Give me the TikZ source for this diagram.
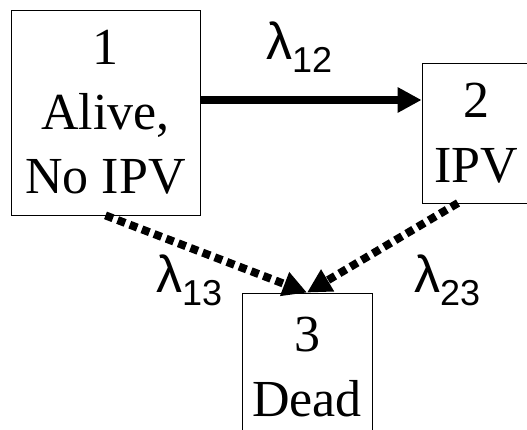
\documentclass[tikz,border=0pt]{standalone}
\usepackage{fontspec}
\setmainfont{Liberation Serif}
\newfontfamily\lamfont{Liberation Sans}
\usetikzlibrary{arrows.meta}
\begin{document}
\begin{tikzpicture}[x=1pt,y=-1pt,
  statebox/.style={draw, line width=0.8pt, inner sep=0pt, align=center,
    font=\fontsize{52}{64.5}\selectfont},
  lam/.style={font=\lamfont\fontsize{52}{52}\selectfont, inner sep=0pt, anchor=base west},
  bigtip/.style={-{Triangle[length=24pt,width=24pt]}},
  solidarrow/.style={line width=8pt, bigtip},
  dotarrow/.style={line width=8pt, dash pattern=on 8pt off 5pt, bigtip}]
\useasboundingbox (0,0) rectangle (527,430);
\fill[white] (0,0) rectangle (527,430);
\node[statebox, minimum width=189pt, minimum height=205pt] (s1) at (105.5,112.5) {1\\Alive,\\No IPV};
\node[statebox, minimum width=108pt, minimum height=140pt] (s2) at (476,133) {2\\IPV};
\node[statebox, minimum width=130pt, minimum height=148pt] (s3) at (307,367) {3\\Dead};
\coordinate (a12) at (200,100);
\coordinate (a23) at (458,203);
\draw[solidarrow] (a12) -- (a12 -| s2.west);
\draw[dotarrow] (s1.south) -- (s3.north);
\draw[dotarrow] (a23) -- (s3.north);
\node[lam] (l12) at (266,60) {λ\raisebox{-13pt}{\fontsize{36}{36}\selectfont 12}};
\node[lam] (l13) at (156,292) {λ\raisebox{-13pt}{\fontsize{36}{36}\selectfont 13}};
\node[lam] (l23) at (414,292) {λ\raisebox{-13pt}{\fontsize{36}{36}\selectfont 23}};
\end{tikzpicture}
\end{document}
